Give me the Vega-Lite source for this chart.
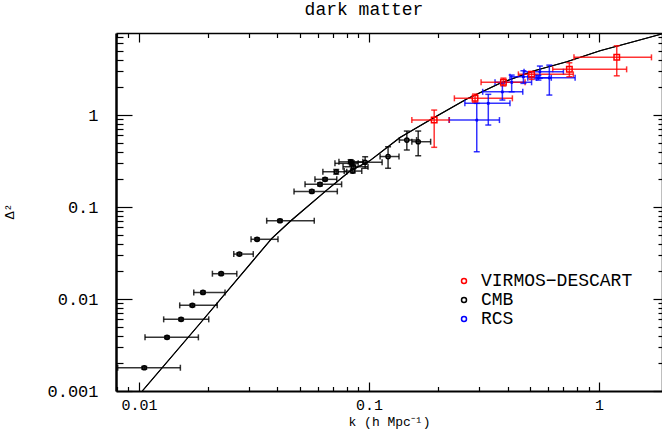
{
  "$schema": "https://vega.github.io/schema/vega-lite/v6.json",
  "width": 546,
  "height": 358,
  "autosize": "none",
  "padding": {"left": 116, "top": 33, "right": 0, "bottom": 38},
  "background": "white",
  "title": {"text": "dark matter", "font": "Liberation Mono", "fontSize": 18, "fontWeight": "normal", "anchor": "middle", "dx": -25, "offset": 9, "color": "black"},
  "config": {
    "view": {"stroke": null},
    "axis": {"grid": false, "domainColor": "black", "tickColor": "black", "labelColor": "black", "titleColor": "black", "labelFont": "Liberation Mono", "labelFontSize": 17, "titleFont": "Liberation Mono", "titleFontSize": 15, "titleFontWeight": "normal"}
  },
  "datasets": {
    "curve": [
      {"k": 0.01033, "d": 0.001},
      {"k": 0.01841, "d": 0.00542},
      {"k": 0.0304, "d": 0.024},
      {"k": 0.0378, "d": 0.0457},
      {"k": 0.0456, "d": 0.0705},
      {"k": 0.0655, "d": 0.153},
      {"k": 0.0827, "d": 0.246},
      {"k": 0.1003, "d": 0.316},
      {"k": 0.1364, "d": 0.569},
      {"k": 0.1904, "d": 0.928},
      {"k": 0.266, "d": 1.493},
      {"k": 0.3711, "d": 2.211},
      {"k": 0.518, "d": 3.008},
      {"k": 0.724, "d": 3.796},
      {"k": 1.01, "d": 5.0},
      {"k": 1.409, "d": 6.26},
      {"k": 1.873, "d": 7.59}
    ],
    "pts": [
      {"series": "CMB", "k": 0.01054, "d": 0.00179, "klo": 0.00808, "khi": 0.01513, "dlo": 0.00173, "dhi": 0.00185},
      {"series": "CMB", "k": 0.01324, "d": 0.00383, "klo": 0.01062, "khi": 0.01812, "dlo": 0.00371, "dhi": 0.00395},
      {"series": "CMB", "k": 0.01524, "d": 0.00601, "klo": 0.0128, "khi": 0.0201, "dlo": 0.00582, "dhi": 0.0062},
      {"series": "CMB", "k": 0.01706, "d": 0.00853, "klo": 0.01503, "khi": 0.02188, "dlo": 0.00826, "dhi": 0.0088},
      {"series": "CMB", "k": 0.01897, "d": 0.0118, "klo": 0.0173, "khi": 0.02366, "dlo": 0.01143, "dhi": 0.01218},
      {"series": "CMB", "k": 0.02276, "d": 0.01884, "klo": 0.02085, "khi": 0.02662, "dlo": 0.01825, "dhi": 0.01945},
      {"series": "CMB", "k": 0.02731, "d": 0.0308, "klo": 0.02582, "khi": 0.03139, "dlo": 0.0298, "dhi": 0.0318},
      {"series": "CMB", "k": 0.0326, "d": 0.0446, "klo": 0.0307, "khi": 0.0402, "dlo": 0.0432, "dhi": 0.046},
      {"series": "CMB", "k": 0.041, "d": 0.071, "klo": 0.0359, "khi": 0.0578, "dlo": 0.0688, "dhi": 0.0733},
      {"series": "CMB", "k": 0.0564, "d": 0.148, "klo": 0.0472, "khi": 0.0728, "dlo": 0.143, "dhi": 0.153},
      {"series": "CMB", "k": 0.0612, "d": 0.1766, "klo": 0.0527, "khi": 0.076, "dlo": 0.17, "dhi": 0.183},
      {"series": "CMB", "k": 0.0644, "d": 0.2, "klo": 0.0582, "khi": 0.0724, "dlo": 0.193, "dhi": 0.207},
      {"series": "CMB", "k": 0.072, "d": 0.242, "klo": 0.063, "khi": 0.08, "dlo": 0.228, "dhi": 0.256},
      {"series": "CMB", "k": 0.0842, "d": 0.2985, "klo": 0.0711, "khi": 0.0897, "dlo": 0.28, "dhi": 0.318},
      {"series": "CMB", "k": 0.0855, "d": 0.274, "klo": 0.0771, "khi": 0.099, "dlo": 0.262, "dhi": 0.287},
      {"series": "CMB", "k": 0.085, "d": 0.246, "klo": 0.078, "khi": 0.093, "dlo": 0.235, "dhi": 0.258},
      {"series": "CMB", "k": 0.0832, "d": 0.31, "klo": 0.074, "khi": 0.094, "dlo": 0.295, "dhi": 0.327},
      {"series": "CMB", "k": 0.0962, "d": 0.306, "klo": 0.083, "khi": 0.114, "dlo": 0.264, "dhi": 0.352},
      {"series": "CMB", "k": 0.121, "d": 0.354, "klo": 0.1117, "khi": 0.135, "dlo": 0.264, "dhi": 0.452},
      {"series": "CMB", "k": 0.146, "d": 0.535, "klo": 0.1355, "khi": 0.161, "dlo": 0.417, "dhi": 0.67},
      {"series": "CMB", "k": 0.1636, "d": 0.513, "klo": 0.1535, "khi": 0.1853, "dlo": 0.361, "dhi": 0.67},
      {"series": "RCS", "k": 0.294, "d": 0.882, "klo": 0.223, "khi": 0.369, "dlo": 0.399, "dhi": 1.34},
      {"series": "RCS", "k": 0.33, "d": 1.34, "klo": 0.261, "khi": 0.41, "dlo": 0.779, "dhi": 1.68},
      {"series": "RCS", "k": 0.38, "d": 1.79, "klo": 0.312, "khi": 0.466, "dlo": 1.456, "dhi": 2.21},
      {"series": "RCS", "k": 0.417, "d": 2.27, "klo": 0.353, "khi": 0.509, "dlo": 1.79, "dhi": 2.72},
      {"series": "RCS", "k": 0.469, "d": 2.61, "klo": 0.41, "khi": 0.527, "dlo": 2.21, "dhi": 3.03},
      {"series": "RCS", "k": 0.553, "d": 2.96, "klo": 0.472, "khi": 0.7, "dlo": 2.51, "dhi": 3.41},
      {"series": "RCS", "k": 0.608, "d": 2.54, "klo": 0.536, "khi": 0.787, "dlo": 1.65, "dhi": 3.49},
      {"series": "RCS", "k": 0.545, "d": 2.54, "klo": 0.49, "khi": 0.62, "dlo": 2.4, "dhi": 2.7},
      {"series": "VIRMOS−DESCART", "k": 0.192, "d": 0.883, "klo": 0.1535, "khi": 0.2234, "dlo": 0.446, "dhi": 1.133},
      {"series": "VIRMOS−DESCART", "k": 0.289, "d": 1.52, "klo": 0.235, "khi": 0.42, "dlo": 1.38, "dhi": 1.69},
      {"series": "VIRMOS−DESCART", "k": 0.384, "d": 2.27, "klo": 0.307, "khi": 0.477, "dlo": 2.07, "dhi": 2.52},
      {"series": "VIRMOS−DESCART", "k": 0.509, "d": 2.77, "klo": 0.446, "khi": 0.773, "dlo": 2.44, "dhi": 2.96},
      {"series": "VIRMOS−DESCART", "k": 0.743, "d": 3.14, "klo": 0.629, "khi": 1.318, "dlo": 2.61, "dhi": 3.7},
      {"series": "VIRMOS−DESCART", "k": 1.194, "d": 4.24, "klo": 0.778, "khi": 1.69, "dlo": 2.67, "dhi": 5.66}
    ]
  },
  "layer": [
    {
      "data": {"name": "curve"},
      "mark": {"type": "line", "color": "black", "strokeWidth": 1.1, "clip": true},
      "encoding": {
        "x": {"field": "k", "type": "quantitative",
          "scale": {"type": "log", "domain": [0.007943, 1.878], "nice": false},
          "axis": {"orient": "bottom", "values": [0.008,0.009,0.01,0.02,0.03,0.04,0.05,0.06,0.07,0.08,0.09,0.1,0.2,0.3,0.4,0.5,0.6,0.7,0.8,0.9,1],
            "format": "~g", "labelExpr": "abs(log(datum.value)/LN10 - round(log(datum.value)/LN10)) < 0.001 ? datum.label : ''",
            "tickSize": {"condition": {"test": "abs(log(datum.value)/LN10 - round(log(datum.value)/LN10)) < 0.001", "value": -9}, "value": -4.5},
            "tickWidth": 1.2, "domainWidth": 2, "labelPadding": 15, "labelFontSize": 15, "labelFlush": false, "labelOverlap": false,
            "title": "k (h Mpc⁻¹)", "titleFontSize": 13, "titleY": 34, "titleBaseline": "alphabetic"}},
        "y": {"field": "d", "type": "quantitative",
          "scale": {"type": "log", "domain": [0.001, 7.8], "nice": false},
          "axis": {"orient": "left", "values": [0.001,0.002,0.003,0.004,0.005,0.006,0.007,0.008,0.009,0.01,0.02,0.03,0.04,0.05,0.06,0.07,0.08,0.09,0.1,0.2,0.3,0.4,0.5,0.6,0.7,0.8,0.9,1,2,3,4,5,6,7],
            "format": "~g", "labelExpr": "abs(log(datum.value)/LN10 - round(log(datum.value)/LN10)) < 0.001 ? datum.label : ''",
            "tickSize": {"condition": {"test": "abs(log(datum.value)/LN10 - round(log(datum.value)/LN10)) < 0.001", "value": -16}, "value": -7},
            "tickWidth": 1.2, "domainWidth": 2.5, "labelPadding": 34, "labelFlush": false, "labelOverlap": false,
            "title": "Δ²", "titleX": -100, "titleY": 178, "titleAngle": -90, "titleFontSize": 13}}
      }
    },
    {
      "data": {"name": "curve"},
      "mark": {"type": "line", "color": "black", "strokeWidth": 1.1, "clip": true},
      "encoding": {
        "x": {"field": "k", "type": "quantitative",
          "axis": {"orient": "top", "values": [0.008,0.009,0.01,0.02,0.03,0.04,0.05,0.06,0.07,0.08,0.09,0.1,0.2,0.3,0.4,0.5,0.6,0.7,0.8,0.9,1],
            "labels": false, "title": null,
            "tickSize": {"condition": {"test": "abs(log(datum.value)/LN10 - round(log(datum.value)/LN10)) < 0.001", "value": -9}, "value": -4.5},
            "tickWidth": 1.2, "domainWidth": 1.5}},
        "y": {"field": "d", "type": "quantitative",
          "axis": {"orient": "right", "values": [0.001,0.002,0.003,0.004,0.005,0.006,0.007,0.008,0.009,0.01,0.02,0.03,0.04,0.05,0.06,0.07,0.08,0.09,0.1,0.2,0.3,0.4,0.5,0.6,0.7,0.8,0.9,1,2,3,4,5,6,7],
            "labels": false, "title": null,
            "tickSize": {"condition": {"test": "abs(log(datum.value)/LN10 - round(log(datum.value)/LN10)) < 0.001", "value": -9}, "value": -4},
            "tickWidth": 1.2, "domainWidth": 1.5}}
      }
    },
    {
      "data": {"name": "pts"},
      "mark": {"type": "errorbar", "ticks": {"size": 6, "thickness": 1.5}, "thickness": 1.5, "opacity": 0.8},
      "encoding": {
        "x": {"field": "klo", "type": "quantitative", "axis": null},
        "x2": {"field": "khi"},
        "y": {"field": "d", "type": "quantitative", "axis": null},
        "color": {"field": "series", "type": "nominal", "legend": null,
          "scale": {"domain": ["VIRMOS−DESCART", "CMB", "RCS"], "range": ["#ff0000", "#000000", "#0000ff"]}}
      }
    },
    {
      "data": {"name": "pts"},
      "mark": {"type": "errorbar", "ticks": {"size": 6, "thickness": 1.5}, "thickness": 1.5, "opacity": 0.8},
      "encoding": {
        "x": {"field": "k", "type": "quantitative", "axis": null},
        "y": {"field": "dlo", "type": "quantitative", "axis": null},
        "y2": {"field": "dhi"},
        "color": {"field": "series", "type": "nominal", "legend": null,
          "scale": {"domain": ["VIRMOS−DESCART", "CMB", "RCS"], "range": ["#ff0000", "#000000", "#0000ff"]}}
      }
    },
    {
      "data": {"name": "pts"},
      "mark": {"type": "point", "filled": false, "strokeWidth": 1.5, "opacity": 1},
      "encoding": {
        "x": {"field": "k", "type": "quantitative", "axis": null},
        "y": {"field": "d", "type": "quantitative", "axis": null},
        "color": {"field": "series", "type": "nominal",
          "scale": {"domain": ["VIRMOS−DESCART", "CMB", "RCS"], "range": ["#ff0000", "#000000", "#0000ff"]},
          "legend": {"title": null, "orient": "none", "legendX": 339, "legendY": 239, "padding": 0, "labelFont": "Liberation Mono", "labelFontSize": 18, "labelOffset": 8, "rowPadding": 1, "symbolSize": 25, "symbolStrokeWidth": 1.5,
            "encode": {"labels": {"update": {"fill": {"signal": "scale('color', datum.value)"}}}}}},
        "shape": {"field": "series", "type": "nominal",
          "scale": {"domain": ["VIRMOS−DESCART", "CMB", "RCS"], "range": ["square", "circle", "M-1,-1L1,1M-1,1L1,-1"]},
          "legend": null},
        "size": {"field": "series", "type": "nominal", "scale": {"domain": ["VIRMOS−DESCART", "CMB", "RCS"], "range": [30, 5, 14]}, "legend": null}
      }
    }
  ],
  "resolve": {"axis": {"x": "independent", "y": "independent"}, "scale": {"color": "independent"}}
}
